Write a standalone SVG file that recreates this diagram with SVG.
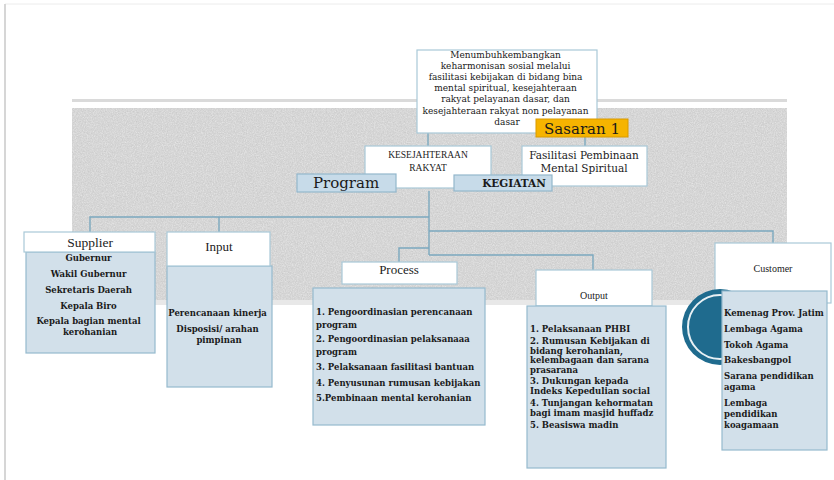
<svg xmlns="http://www.w3.org/2000/svg" width="834" height="480" viewBox="0 0 834 480">
<defs>
<filter id="grain" x="0" y="0" width="100%" height="100%">
<feTurbulence type="fractalNoise" baseFrequency="0.8" numOctaves="3" seed="7" result="n"/>
<feColorMatrix in="n" type="matrix" values="0 0 0 0 0.55  0 0 0 0 0.55  0 0 0 0 0.55  1.4 0 0 0 -0.55"/>
</filter>
<filter id="grain2" x="0" y="0" width="100%" height="100%">
<feTurbulence type="fractalNoise" baseFrequency="0.9" numOctaves="2" seed="3" result="n"/>
<feColorMatrix in="n" type="matrix" values="0 0 0 0 1  0 0 0 0 1  0 0 0 0 1  1.4 0 0 0 -0.6"/>
</filter>
<style>
.hdr{fill:#ffffff;stroke:#a9c9d8;stroke-width:1.2}
.body{fill:#d2e0ea;stroke:#95bacd;stroke-width:1.2}
.tag{fill:#c7dbe9;stroke:#93b7cc;stroke-width:1.2}
.conn{fill:none;stroke:#7ba8be;stroke-width:1.4}
.slab{font-family:"DejaVu Serif","Liberation Serif",serif;fill:#1a1a1a}
.tm{font-family:"Liberation Serif","DejaVu Serif",serif;fill:#222}
.b{font-size:9px}
.bb{font-size:8.5px;font-weight:bold}
.mid{text-anchor:middle}
</style>
</defs>
<rect width="834" height="480" fill="#ffffff"/>
<line x1="5" y1="4" x2="834" y2="4" stroke="#ececec" stroke-width="1"/>
<line x1="5" y1="4" x2="5" y2="480" stroke="#d6d6d6" stroke-width="2"/>

<g id="band">
<rect x="72" y="99" width="715" height="3" fill="#dadada"/>
<rect x="72" y="108" width="715" height="192" fill="#d6d6d6"/>
<rect x="72" y="108" width="715" height="192" filter="url(#grain)"/>
<rect x="72" y="108" width="715" height="192" filter="url(#grain2)" opacity="0.6"/>
<rect x="72" y="300" width="715" height="5" fill="#e8e8e8"/>
</g>

<g id="connectors">
<line class="conn" x1="428" y1="133" x2="428" y2="146"/>
<line class="conn" x1="585" y1="137" x2="585" y2="146"/>
<polyline class="conn" points="429,191 429,255"/>
<polyline class="conn" points="429,217 90,217 90,232"/>
<line class="conn" x1="219" y1="217" x2="219" y2="232"/>
<polyline class="conn" points="429,231 773,231 773,244"/>
<polyline class="conn" points="429,248 399,248 399,262"/>
<polyline class="conn" points="429,255 593,255 593,270"/>
</g>

<g id="sasaran-desc">
<rect class="hdr" x="417" y="50" width="180" height="83"/>
<text class="slab b mid" x="507">
<tspan x="507" y="58">Menumbuhkembangkan</tspan>
<tspan x="507" y="69">keharmonisan sosial melalui</tspan>
<tspan x="507" y="80">fasilitasi kebijakan di bidang bina</tspan>
<tspan x="507" y="91">mental spiritual, kesejahteraan</tspan>
<tspan x="507" y="102">rakyat pelayanan dasar, dan</tspan>
<tspan x="507" y="114">kesejahteraan rakyat non pelayanan</tspan>
<tspan x="507" y="125">dasar</tspan>
</text>
</g>

<g id="sasaran1">
<rect x="536" y="119" width="92" height="18" fill="#f6b400" stroke="#d99a00" stroke-width="1"/>
<text class="slab mid" x="582" y="134" font-size="15">Sasaran 1</text>
</g>

<g id="kesejahteraan">
<rect class="hdr" x="365" y="146" width="126" height="42"/>
<text class="tm mid" font-size="9.5"><tspan x="428" y="158">KESEJAHTERAAN</tspan><tspan x="428" y="171">RAKYAT</tspan></text>
</g>

<g id="fasilitasi">
<rect class="hdr" x="522" y="146" width="125" height="40"/>
<text class="slab mid" font-size="10.5"><tspan x="584" y="159">Fasilitasi Pembinaan</tspan><tspan x="584" y="172">Mental Spiritual</tspan></text>
</g>

<g id="program">
<rect class="tag" x="297" y="174" width="99" height="18"/>
<text class="slab mid" x="346" y="188" font-size="15">Program</text>
</g>

<g id="kegiatan">
<rect class="tag" x="454" y="175" width="98" height="16"/>
<text class="slab mid" x="514" y="187" font-size="10.5" font-weight="bold">KEGIATAN</text>
</g>

<g id="supplier">
<rect class="body" x="26" y="252" width="129" height="101"/>
<rect class="hdr" x="24" y="232" width="131" height="20"/>
<text class="tm mid" x="90" y="247" font-size="13.5">Supplier</text>
<text class="slab bb mid">
<tspan x="90" y="261">Gubernur</tspan>
<tspan x="90" y="277">Wakil Gubernur</tspan>
<tspan x="90" y="293">Sekretaris Daerah</tspan>
<tspan x="90" y="309">Kepala Biro</tspan>
<tspan x="90" y="324">Kepala bagian mental</tspan>
<tspan x="90" y="335">kerohanian</tspan>
</text>
</g>

<g id="input">
<rect class="body" x="167" y="266" width="105" height="121"/>
<rect class="hdr" x="167" y="232" width="103" height="34"/>
<text class="tm mid" x="219" y="251" font-size="13">Input</text>
<text class="slab bb mid">
<tspan x="219" y="316">Perencanaan kinerja</tspan>
<tspan x="219" y="332">Disposisi/ arahan</tspan>
<tspan x="219" y="343">pimpinan</tspan>
</text>
</g>

<g id="process">
<rect class="hdr" x="342" y="262" width="115" height="22"/>
<rect class="body" x="313" y="288" width="172" height="137"/>
<text class="tm mid" x="399" y="274" font-size="13">Process</text>
<text class="slab bb">
<tspan x="316" y="315">1. Pengoordinasian perencanaan</tspan>
<tspan x="316" y="328">program</tspan>
<tspan x="316" y="342">2. Pengoordinasian pelaksanaaa</tspan>
<tspan x="316" y="355">program</tspan>
<tspan x="316" y="370">3. Pelaksanaan fasilitasi bantuan</tspan>
<tspan x="316" y="386">4. Penyusunan rumusan kebijakan</tspan>
<tspan x="316" y="401">5.Pembinaan mental kerohanian</tspan>
</text>
</g>

<g id="output">
<rect class="hdr" x="536" y="270" width="116" height="36"/>
<rect class="body" x="527" y="306" width="139" height="162"/>
<text class="tm mid" x="594" y="299" font-size="10">Output</text>
<text class="slab bb">
<tspan x="530" y="332">1. Pelaksanaan PHBI</tspan>
<tspan x="530" y="344">2. Rumusan Kebijakan di</tspan>
<tspan x="530" y="353.5">bidang kerohanian,</tspan>
<tspan x="530" y="363">kelembagaan dan sarana</tspan>
<tspan x="530" y="372.5">prasarana</tspan>
<tspan x="530" y="384">3. Dukungan kepada</tspan>
<tspan x="530" y="393.5">Indeks Kepedulian social</tspan>
<tspan x="530" y="406">4. Tunjangan kehormatan</tspan>
<tspan x="530" y="415.5">bagi imam masjid huffadz</tspan>
<tspan x="530" y="428">5. Beasiswa madin</tspan>
</text>
</g>

<g id="customer">
<rect class="hdr" x="715" y="243" width="116" height="60"/>
<circle cx="720" cy="327" r="38" fill="#1f6b8e"/>
<circle cx="720" cy="327" r="32" fill="none" stroke="#e8f0f4" stroke-width="2"/>
<rect class="body" x="722" y="291" width="105" height="159"/>
<text class="tm mid" x="773" y="272" font-size="10">Customer</text>
<text class="slab bb">
<tspan x="724" y="316">Kemenag Prov. Jatim</tspan>
<tspan x="724" y="332">Lembaga Agama</tspan>
<tspan x="724" y="348">Tokoh Agama</tspan>
<tspan x="724" y="363">Bakesbangpol</tspan>
<tspan x="724" y="379">Sarana pendidikan</tspan>
<tspan x="724" y="390">agama</tspan>
<tspan x="724" y="406">Lembaga</tspan>
<tspan x="724" y="417">pendidikan</tspan>
<tspan x="724" y="428">koagamaan</tspan>
</text>
</g>
</svg>
